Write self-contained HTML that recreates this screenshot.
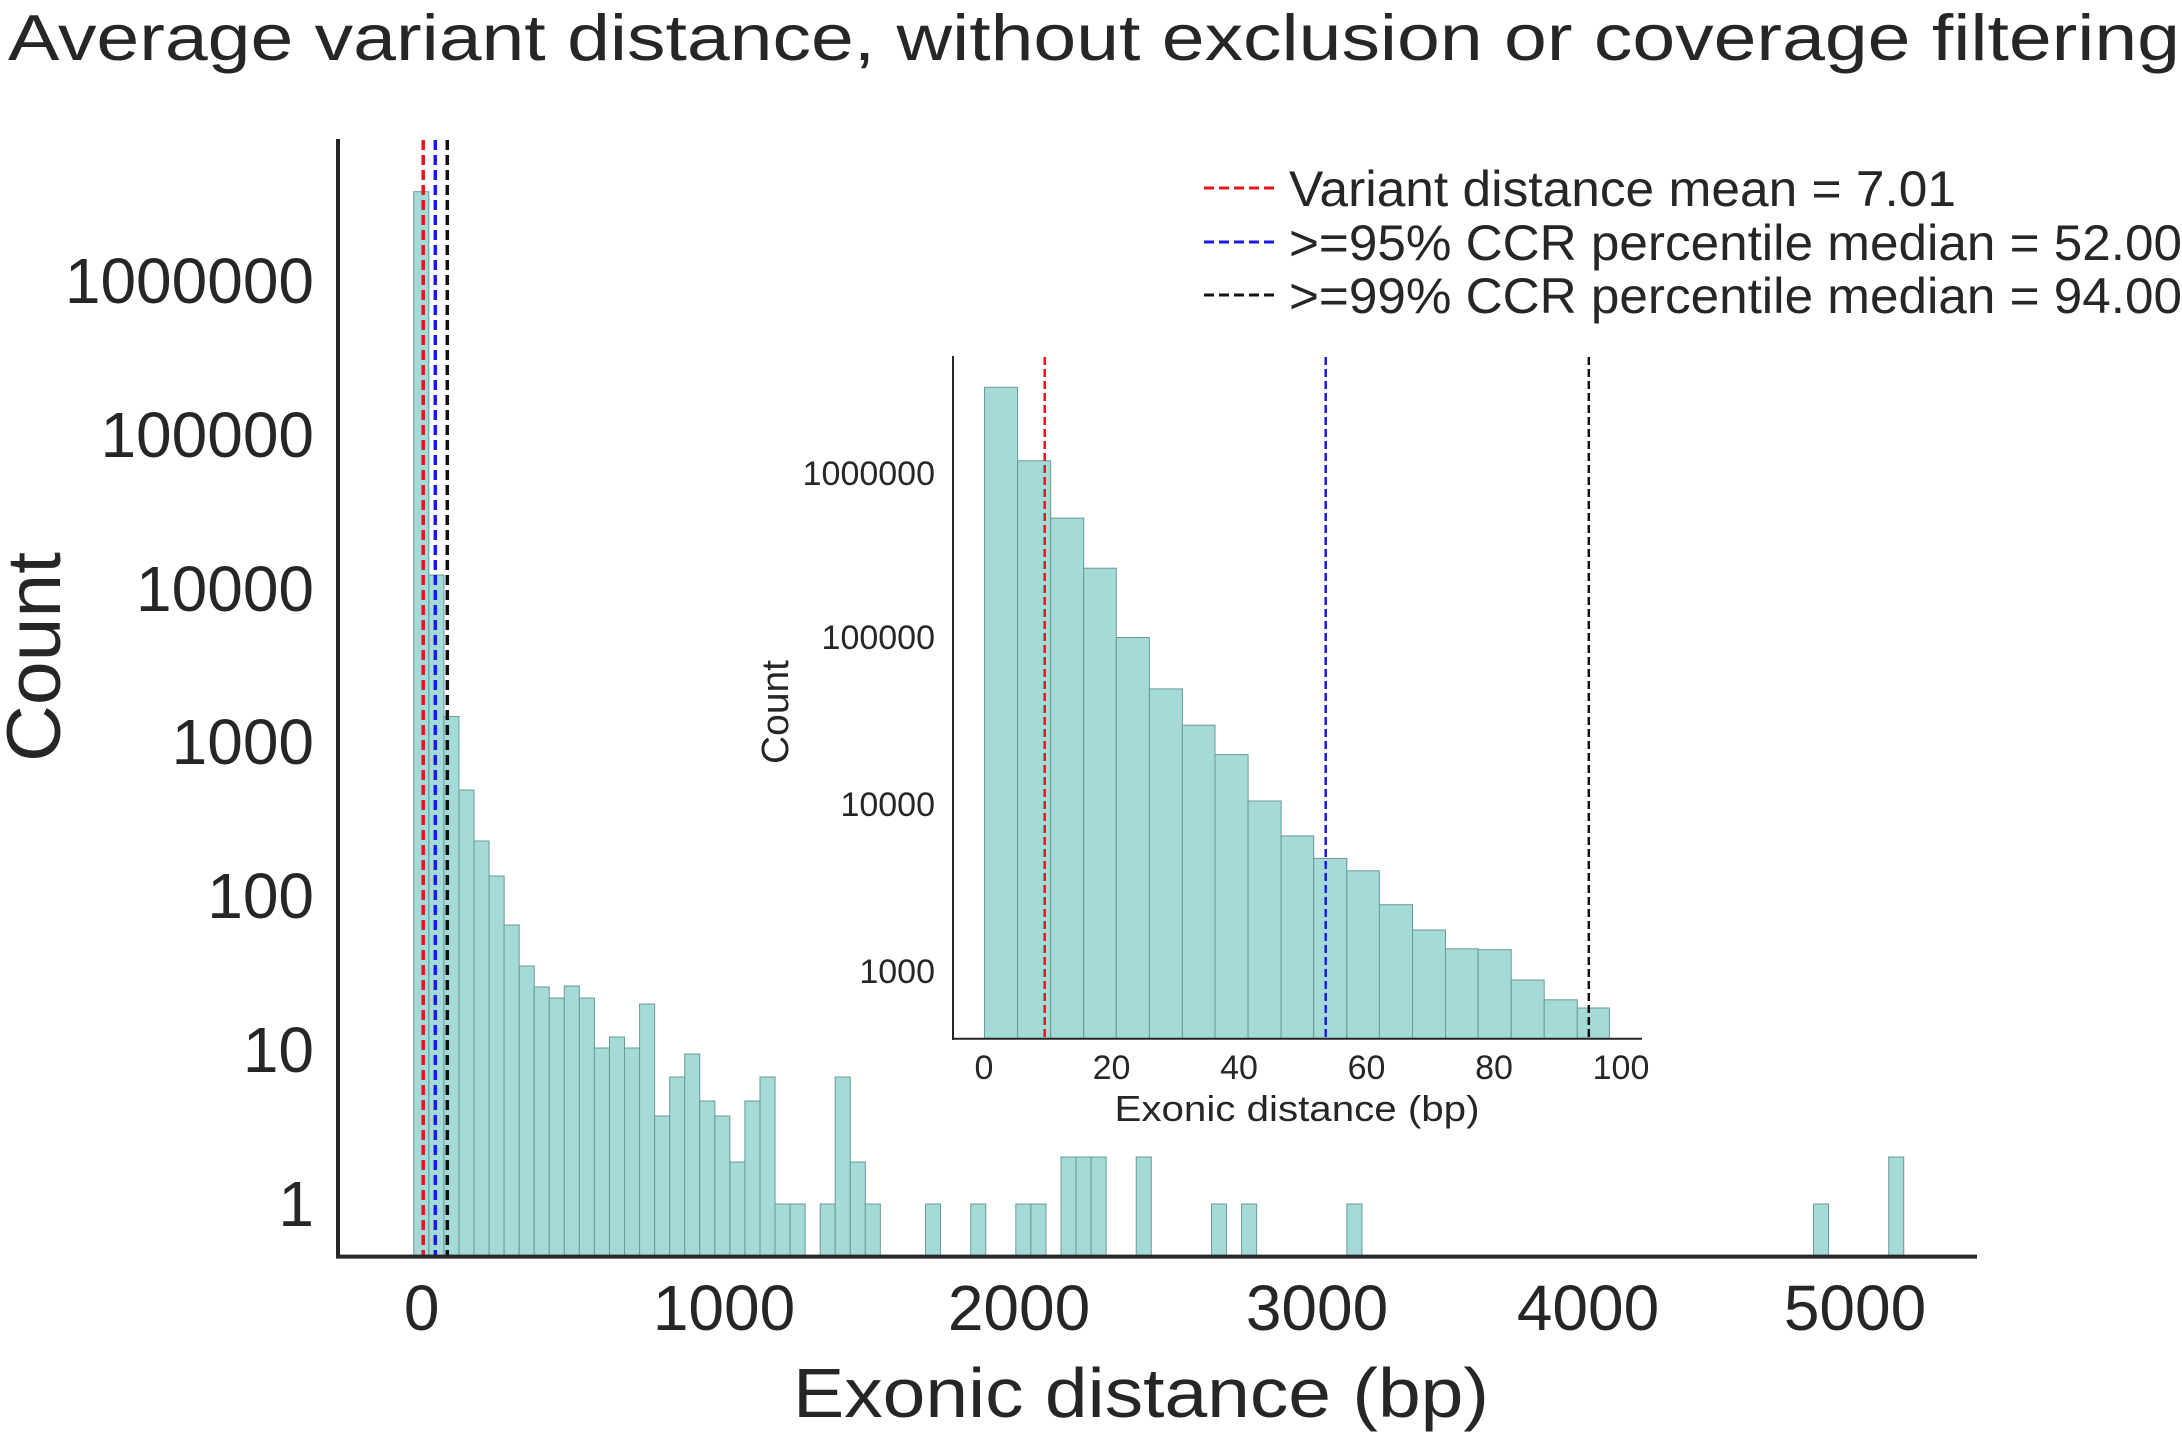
<!DOCTYPE html>
<html><head><meta charset="utf-8"><style>
html,body{margin:0;padding:0;background:#fff;}
svg{display:block;}
text{font-family:"Liberation Sans",Arial,sans-serif;fill:#262626;}
</style></head><body>
<svg width="2182" height="1438" viewBox="0 0 2182 1438" xmlns="http://www.w3.org/2000/svg">
<text x="8" y="60" font-size="65" textLength="2172" lengthAdjust="spacingAndGlyphs">Average variant distance, without exclusion or coverage filtering</text>

<g fill="#a4dad7" stroke="#6a9996" stroke-width="1">
<rect x="413.8" y="191.7" width="15.05" height="1064.9"/>
<rect x="428.9" y="575" width="15.05" height="681.6"/>
<rect x="443.9" y="716.5" width="15.05" height="540.1"/>
<rect x="459.0" y="790" width="15.05" height="466.6"/>
<rect x="474.0" y="841" width="15.05" height="415.6"/>
<rect x="489.1" y="876" width="15.05" height="380.6"/>
<rect x="504.1" y="925" width="15.05" height="331.6"/>
<rect x="519.2" y="966" width="15.05" height="290.6"/>
<rect x="534.2" y="987" width="15.05" height="269.6"/>
<rect x="549.3" y="998" width="15.05" height="258.6"/>
<rect x="564.3" y="986" width="15.05" height="270.6"/>
<rect x="579.4" y="998" width="15.05" height="258.6"/>
<rect x="594.4" y="1048" width="15.05" height="208.6"/>
<rect x="609.5" y="1037" width="15.05" height="219.6"/>
<rect x="624.5" y="1048" width="15.05" height="208.6"/>
<rect x="639.6" y="1004" width="15.05" height="252.6"/>
<rect x="654.6" y="1116" width="15.05" height="140.6"/>
<rect x="669.7" y="1077" width="15.05" height="179.6"/>
<rect x="684.7" y="1054" width="15.05" height="202.6"/>
<rect x="699.8" y="1101" width="15.05" height="155.6"/>
<rect x="714.8" y="1116" width="15.05" height="140.6"/>
<rect x="729.9" y="1162" width="15.05" height="94.6"/>
<rect x="744.9" y="1101" width="15.05" height="155.6"/>
<rect x="760.0" y="1077" width="15.05" height="179.6"/>
<rect x="775.0" y="1204" width="15.05" height="52.6"/>
<rect x="790.1" y="1204" width="15.05" height="52.6"/>
<rect x="820.2" y="1204" width="15.05" height="52.6"/>
<rect x="835.2" y="1077" width="15.05" height="179.6"/>
<rect x="850.3" y="1162" width="15.05" height="94.6"/>
<rect x="865.3" y="1204" width="15.05" height="52.6"/>
<rect x="925.5" y="1204" width="15.05" height="52.6"/>
<rect x="970.7" y="1204" width="15.05" height="52.6"/>
<rect x="1015.8" y="1204" width="15.05" height="52.6"/>
<rect x="1030.9" y="1204" width="15.05" height="52.6"/>
<rect x="1061.0" y="1157" width="15.05" height="99.6"/>
<rect x="1076.0" y="1157" width="15.05" height="99.6"/>
<rect x="1091.1" y="1157" width="15.05" height="99.6"/>
<rect x="1136.2" y="1157" width="15.05" height="99.6"/>
<rect x="1211.5" y="1204" width="15.05" height="52.6"/>
<rect x="1241.6" y="1204" width="15.05" height="52.6"/>
<rect x="1346.9" y="1204" width="15.05" height="52.6"/>
<rect x="1813.5" y="1204" width="15.05" height="52.6"/>
<rect x="1888.7" y="1157" width="15.05" height="99.6"/>
</g>
<g stroke-width="3.5" stroke-dasharray="10 5">
<line x1="423.2" y1="140" x2="423.2" y2="1256" stroke="#e8141b"/>
<line x1="435.3" y1="140" x2="435.3" y2="1256" stroke="#1a1ae6"/>
<line x1="447.3" y1="140" x2="447.3" y2="1256" stroke="#111"/>
</g>
<line x1="338" y1="139" x2="338" y2="1258" stroke="#262626" stroke-width="4"/>
<line x1="336" y1="1256.6" x2="1977" y2="1256.6" stroke="#262626" stroke-width="4"/>
<g font-size="64" text-anchor="end">
<text x="314" y="1226">1</text>
<text x="314" y="1072">10</text>
<text x="314" y="918">100</text>
<text x="314" y="764">1000</text>
<text x="314" y="611">10000</text>
<text x="314" y="457">100000</text>
<text x="314" y="303">1000000</text>
</g>
<g font-size="64" text-anchor="middle">
<text x="421.7" y="1330">0</text>
<text x="724" y="1330">1000</text>
<text x="1019" y="1330">2000</text>
<text x="1317" y="1330">3000</text>
<text x="1588" y="1330">4000</text>
<text x="1855" y="1330">5000</text>
</g>
<text x="1141" y="1417" font-size="70" text-anchor="middle" textLength="696" lengthAdjust="spacingAndGlyphs">Exonic distance (bp)</text>
<text transform="translate(60,657) rotate(-90)" font-size="76" text-anchor="middle" textLength="210" lengthAdjust="spacingAndGlyphs">Count</text>

<g stroke-width="3" stroke-dasharray="10 5">
<line x1="1204" y1="188" x2="1276" y2="188" stroke="#e8141b"/>
<line x1="1204" y1="242" x2="1276" y2="242" stroke="#1a1ae6"/>
<line x1="1204" y1="295" x2="1276" y2="295" stroke="#111"/>
</g>
<g font-size="50">
<text x="1289" y="206" textLength="667" lengthAdjust="spacingAndGlyphs">Variant distance mean = 7.01</text>
<text x="1289" y="260" textLength="893" lengthAdjust="spacingAndGlyphs">&gt;=95% CCR percentile median = 52.00</text>
<text x="1289" y="313" textLength="893" lengthAdjust="spacingAndGlyphs">&gt;=99% CCR percentile median = 94.00</text>
</g>

<g fill="#a4dad7" stroke="#6a9996" stroke-width="1">
<rect x="984.5" y="387.3" width="33.1" height="651.5"/>
<rect x="1017.6" y="460.8" width="33.1" height="578"/>
<rect x="1050.7" y="518.1" width="33" height="520.7"/>
<rect x="1083.7" y="568.2" width="32.6" height="470.6"/>
<rect x="1116.3" y="637.5" width="33.1" height="401.3"/>
<rect x="1149.4" y="688.9" width="33" height="349.9"/>
<rect x="1182.4" y="725.2" width="32.6" height="313.6"/>
<rect x="1215" y="754.6" width="33.1" height="284.2"/>
<rect x="1248.1" y="801" width="33" height="237.8"/>
<rect x="1281.1" y="835.9" width="32.6" height="202.9"/>
<rect x="1313.7" y="858.4" width="33.1" height="180.4"/>
<rect x="1346.8" y="870.8" width="32.6" height="168"/>
<rect x="1379.4" y="904.7" width="33.1" height="134.1"/>
<rect x="1412.5" y="930" width="33" height="108.8"/>
<rect x="1445.5" y="948.8" width="32.6" height="90"/>
<rect x="1478.1" y="949.7" width="33.1" height="89.1"/>
<rect x="1511.2" y="980" width="33" height="58.8"/>
<rect x="1544.2" y="999.8" width="33.1" height="39"/>
<rect x="1577.3" y="1008" width="32.1" height="30.8"/>
</g>
<g stroke-width="2.5" stroke-dasharray="8 4">
<line x1="1044.7" y1="357" x2="1044.7" y2="1038" stroke="#e8141b"/>
<line x1="1325.7" y1="357" x2="1325.7" y2="1038" stroke="#1a1ae6"/>
<line x1="1588.8" y1="357" x2="1588.8" y2="1038" stroke="#111"/>
</g>
<line x1="953" y1="356" x2="953" y2="1040" stroke="#262626" stroke-width="2"/>
<line x1="952" y1="1038.8" x2="1642" y2="1038.8" stroke="#262626" stroke-width="2"/>
<g font-size="34" text-anchor="end">
<text x="935" y="485">1000000</text>
<text x="935" y="649">100000</text>
<text x="935" y="816">10000</text>
<text x="935" y="983">1000</text>
</g>
<g font-size="34" text-anchor="middle">
<text x="984" y="1079">0</text>
<text x="1111.5" y="1079">20</text>
<text x="1239" y="1079">40</text>
<text x="1366.5" y="1079">60</text>
<text x="1494" y="1079">80</text>
<text x="1621" y="1079">100</text>
</g>
<text x="1297" y="1121" font-size="36" text-anchor="middle" textLength="365" lengthAdjust="spacingAndGlyphs">Exonic distance (bp)</text>
<text transform="translate(788,712) rotate(-90)" font-size="38" text-anchor="middle" textLength="104" lengthAdjust="spacingAndGlyphs">Count</text>
</svg>
</body></html>
